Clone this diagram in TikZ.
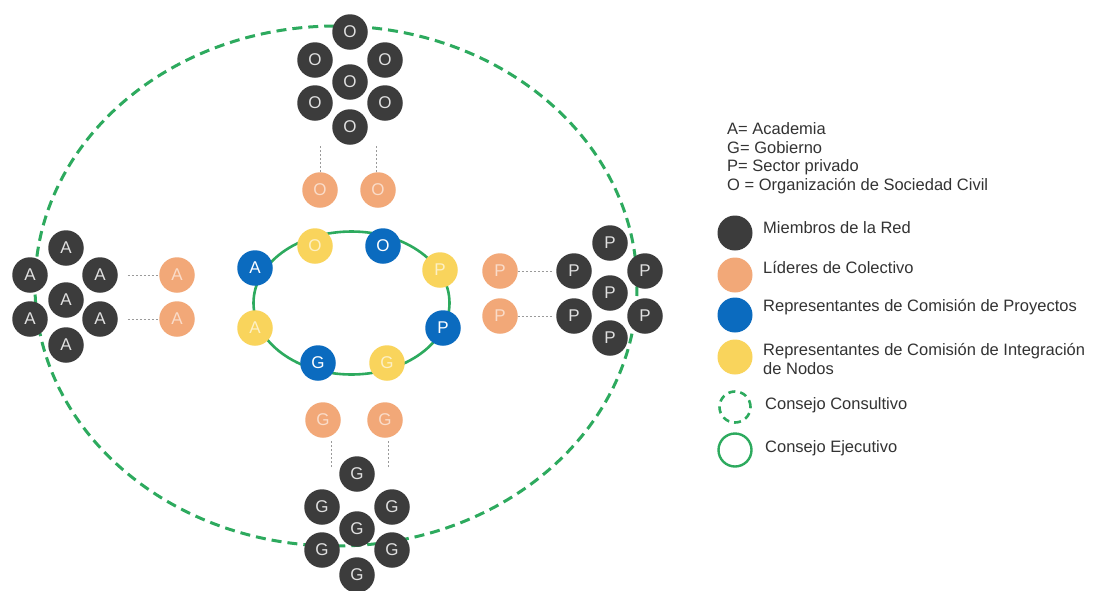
\documentclass[tikz,border=0pt]{standalone}
\usepackage{fontspec}
\setmainfont{Liberation Sans}
\usetikzlibrary{calc}
\definecolor{memc}{HTML}{3C3C3C}
\definecolor{lidc}{HTML}{F2A878}
\definecolor{repc}{HTML}{0B6BBF}
\definecolor{intc}{HTML}{F9D45C}
\definecolor{grn}{HTML}{2DAA5E}
\definecolor{txtc}{HTML}{333333}
\definecolor{conc}{HTML}{9A9A9A}
\tikzset{
  circ/.style={circle,minimum size=35.5pt,inner sep=0pt,font=\fontsize{17}{17}\selectfont},
  mem/.style={circ,fill=memc,text=white!88!black},
  lid/.style={circ,fill=lidc,text=lidc!40!white},
  rep/.style={circ,fill=repc,text=white},
  integ/.style={circ,fill=intc,text=intc!35!white},
  conn/.style={draw=conc,line width=0.9pt,dash pattern=on 2pt off 2pt},
  consul/.style={draw=grn,line width=3pt,dash pattern=on 10pt off 6pt},
  ejec/.style={draw=grn,line width=2.6pt},
  keytxt/.style={anchor=west,text=txtc,inner sep=0pt,font=\fontsize{16.5}{19}\selectfont},
  legdot/.style={circle,minimum size=35pt,inner sep=0pt}
}
\begin{document}
\begin{tikzpicture}[x=1pt,y=-1pt]
\useasboundingbox (0,0) rectangle (1097,590);
\fill[white] (0,0) rectangle (1097,590);
% outer dashed ellipse (Consejo Consultivo)
\draw[consul] (336,286) ellipse [x radius=301, y radius=260];
% clusters
\foreach \n/\x/\y in {1/350/32,2/315/60,3/385/60,4/350/82,5/315/103,6/385/103,7/350/127}
  \node[mem] (O\n) at (\x,\y) {O};
\foreach \n/\x/\y in {1/66/248,2/30/275,3/100/275,4/66/300,5/30/319,6/100/319,7/66/345}
  \node[mem] (A\n) at (\x,\y) {A};
\foreach \n/\x/\y in {1/610/243,2/574/271,3/645/271,4/610/293,5/574/316,6/645/316,7/610/338}
  \node[mem] (P\n) at (\x,\y) {P};
\foreach \n/\x/\y in {1/357/474,2/322/507,3/392/507,4/357/529,5/322/550,6/392/550,7/357/575}
  \node[mem] (G\n) at (\x,\y) {G};
% leaders
\node[lid] (LO1) at (320,190) {O};
\node[lid] (LO2) at (378,190) {O};
\node[lid] (LA1) at (177,275) {A};
\node[lid] (LA2) at (177,319) {A};
\node[lid] (LP1) at (500,271) {P};
\node[lid] (LP2) at (500,316) {P};
\node[lid] (LG1) at (323,420) {G};
\node[lid] (LG2) at (385,420) {G};
% connector ends
\coordinate (cO1) at (320,145);
\coordinate (cO2) at (376,145);
\coordinate (cG1) at (331,467);
\coordinate (cG2) at (388,467);
\draw[conn] (LO1.north) -- (cO1);
\draw[conn] (LO2.north) ++(-2,0) -- (cO2);
\draw[conn, shorten <=10pt] (A3) -- (LA1);
\draw[conn, shorten <=10pt] (A6) -- (LA2);
\draw[conn, shorten >=4pt] (LP1) -- (P2);
\draw[conn, shorten >=4pt] (LP2) -- (P5);
\draw[conn] (cG1) -- ($(LG1.south)+(8,3)$);
\draw[conn] (cG2) -- ($(LG2.south)+(3,3)$);
% executive council
\coordinate (eC) at (351.5,303);
\draw[ejec] (eC) ellipse [x radius=98, y radius=71.5];
\node[rep] (RA) at (255,268) {A};
\node[integ] (IO) at (315,246) {O};
\node[rep] (RO) at (383,246) {O};
\node[integ] (IP) at (440,270) {P};
\node[rep] (RP) at (443,328) {P};
\node[integ] (IG) at (387,363) {G};
\node[rep] (RG) at (318,363) {G};
\node[integ] (IA) at (255,328) {A};
% key
\node[keytxt] (k1) at (727,129) {A= Academia};
\node[keytxt] (k2) at (727,148) {G= Gobierno};
\node[keytxt] (k3) at (727,167) {P= Sector privado};
\node[keytxt] (k4) at (727,186) {O = Organización de Sociedad Civil};
% legend
\node[legdot,fill=memc] (l1) at (735,233) {};
\node[legdot,fill=lidc] (l2) at (735,275) {};
\node[legdot,fill=repc] (l3) at (735,315) {};
\node[legdot,fill=intc] (l4) at (735,357) {};
\node[legdot,draw=grn,line width=2.6pt,dash pattern=on 7pt off 5pt,minimum size=31pt] (l5) at (735,407) {};
\node[legdot,draw=grn,line width=2.4pt,minimum size=33pt] (l6) at (735,450) {};
\node[keytxt] (t1) at (763,228) {Miembros de la Red};
\node[keytxt] (t2) at (763,267) {Líderes de Colectivo};
\node[keytxt] (t3) at (763,307) {Representantes de Comisión de Proyectos};
\node[keytxt,align=left] (t4) at (763,359) {Representantes de Comisión de Integración\\de Nodos};
\node[keytxt] (t5) at (765,405) {Consejo Consultivo};
\node[keytxt] (t6) at (765,448) {Consejo Ejecutivo};
\end{tikzpicture}
\end{document}
